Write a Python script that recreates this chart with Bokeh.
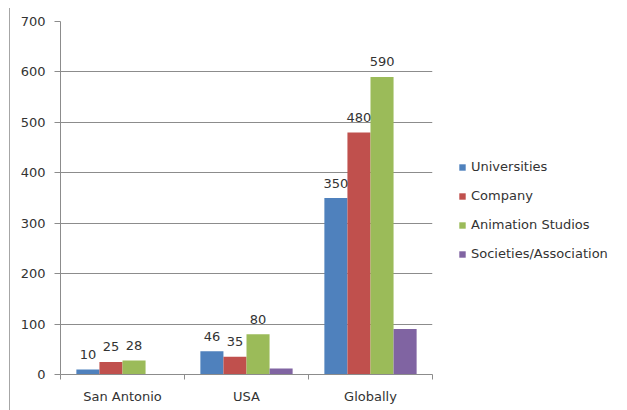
from bokeh.plotting import figure
from bokeh.models import (ColumnDataSource, Range1d, FixedTicker, Legend, LegendItem,
                          LabelSet)
from bokeh.core.properties import value
from bokeh.embed import file_html
from bokeh.resources import INLINE

categories = ["San Antonio", "USA", "Globally"]
series_names = ["Universities", "Company", "Animation Studios", "Societies/Association"]
universities = [10, 46, 350]
company = [25, 35, 480]
animation_studios = [28, 80, 590]
societies = [0, 12, 90]
y_ticks = [0, 100, 200, 300, 400, 500, 600, 700]

colors = ["#4F81BD", "#C0504D", "#9BBB59", "#8064A2"]
all_values = [universities, company, animation_studios, societies]
labeled = [True, True, True, False]

FONT = "DejaVu Sans"
TXT = "#333333"
GRID = "#8c8c8c"

p = figure(frame_width=372, frame_height=353, output_backend="svg", toolbar_location=None,
           x_range=Range1d(0, len(categories)), y_range=Range1d(0, 700),
           min_border_left=50, min_border_right=0, min_border_top=13,
           min_border_bottom=36)
p.styles = {"margin-left": "9px", "margin-top": "8px",
            "border-left": "1px solid #a6a6a6"}
p.outline_line_color = None
p.background_fill_color = "white"
p.border_fill_color = "white"

bw = 0.186
offsets = [-1.5 * bw, -0.5 * bw, 0.5 * bw, 1.5 * bw]
items = []
for name, vals, col, off, lab in zip(series_names, all_values, colors, offsets, labeled):
    xs = [i + 0.5 + off for i in range(len(categories))]
    src = ColumnDataSource(dict(x=xs, top=vals, txt=[str(v) for v in vals]))
    r = p.vbar(x="x", top="top", bottom=0, width=bw, source=src,
               fill_color=col, line_color=None)
    items.append(LegendItem(label=name, renderers=[r]))
    if lab:
        ls = LabelSet(x="x", y="top", text="txt", source=src, text_align="center",
                      text_baseline="middle", y_offset=15, text_font=value(FONT),
                      text_font_size=value("13px"), text_color=value(TXT))
        p.add_layout(ls)

# y axis
p.yaxis.ticker = FixedTicker(ticks=y_ticks)
p.yaxis.axis_line_color = GRID
p.yaxis.major_tick_line_color = GRID
p.yaxis.major_tick_out = 6
p.yaxis.major_tick_in = 0
p.yaxis.minor_tick_line_color = None
p.yaxis.major_label_standoff = 9
p.yaxis.major_label_text_font = FONT
p.yaxis.major_label_text_font_size = "13px"
p.yaxis.major_label_text_color = TXT

# x axis
centers = [i + 0.5 for i in range(len(categories))]
p.xaxis.ticker = FixedTicker(ticks=centers, minor_ticks=list(range(len(categories) + 1)))
p.xaxis.major_label_overrides = {c: n for c, n in zip(centers, categories)}
p.xaxis.axis_line_color = GRID
p.xaxis.major_tick_line_color = None
p.xaxis.major_tick_out = 0
p.xaxis.major_tick_in = 0
p.xaxis.minor_tick_line_color = GRID
p.xaxis.minor_tick_out = 5
p.xaxis.minor_tick_in = 0
p.xaxis.major_label_standoff = 9
p.xaxis.major_label_text_font = FONT
p.xaxis.major_label_text_font_size = "13px"
p.xaxis.major_label_text_color = TXT

p.xgrid.grid_line_color = None
p.ygrid.grid_line_color = GRID
p.ygrid.ticker = FixedTicker(ticks=y_ticks)

legend = Legend(items=items, location=(26, 113), label_text_font=FONT,
                label_text_font_size="13px", label_text_color=TXT,
                glyph_width=8, glyph_height=8, label_standoff=5, spacing=14,
                padding=0, margin=0, border_line_color=None,
                background_fill_alpha=0, label_height=15)
p.add_layout(legend, "right")

open("out.html", "w").write(file_html(p, INLINE))
